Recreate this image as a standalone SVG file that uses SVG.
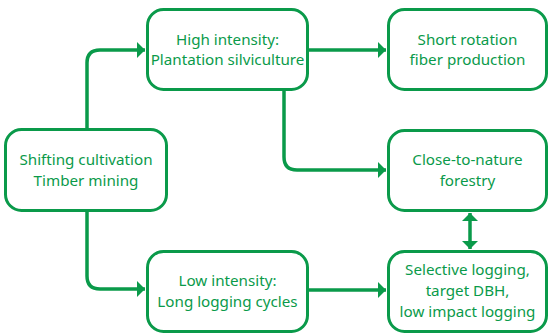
<svg xmlns="http://www.w3.org/2000/svg" width="549" height="333" viewBox="0 0 549 333">
<style>
.box{fill:#fff;stroke:#0a9a4a;stroke-width:3}
.t{font-family:"Noto Sans","Open Sans",sans-serif;font-size:15.2px;fill:#0a9a4a;text-anchor:middle}
.c{fill:none;stroke:#0a9a4a;stroke-width:3.5}
</style>
<defs>
<marker id="ah" markerUnits="userSpaceOnUse" markerWidth="10" markerHeight="16" refX="8" refY="8" orient="auto">
<path d="M0,0 L8,8 L0,16 Z" fill="#0a9a4a"/>
</marker>
<marker id="ahs" markerUnits="userSpaceOnUse" markerWidth="10" markerHeight="16" refX="8" refY="8" orient="auto-start-reverse">
<path d="M0,0 L8,8 L0,16 Z" fill="#0a9a4a"/>
</marker>
</defs>
<rect width="549" height="333" fill="#fff"/>
<g id="connectors">
<path class="c" d="M87,129 V63 Q87,50 100,50 H145" marker-end="url(#ah)"/>
<path class="c" d="M87,211 V276 Q87,289 100,289 H145" marker-end="url(#ah)"/>
<path class="c" d="M308,50 H386" marker-end="url(#ah)"/>
<path class="c" d="M284,90 V157 Q284,170 297,170 H386" marker-end="url(#ah)"/>
<path class="c" d="M308,290 H386" marker-end="url(#ah)"/>
<path class="c" d="M470,213 V249" marker-start="url(#ahs)" marker-end="url(#ah)"/>
</g>
<g id="n1">
<rect class="box" x="5.5" y="129.5" width="161" height="81" rx="16"/>
<text class="t" x="86" y="165">Shifting cultivation</text>
<text class="t" x="86" y="186">Timber mining</text>
</g>
<g id="n2">
<rect class="box" x="147.5" y="9.5" width="160" height="80" rx="16"/>
<text class="t" x="227.5" y="45">High intensity:</text>
<text class="t" x="227.5" y="65">Plantation silviculture</text>
</g>
<g id="n3">
<rect class="box" x="388.5" y="9.5" width="158" height="80" rx="16"/>
<text class="t" x="467.5" y="45">Short rotation</text>
<text class="t" x="467.5" y="65">fiber production</text>
</g>
<g id="n4">
<rect class="box" x="388.5" y="130.5" width="158" height="80" rx="16"/>
<text class="t" x="467.5" y="165">Close-to-nature</text>
<text class="t" x="467.5" y="186">forestry</text>
</g>
<g id="n5">
<rect class="box" x="147.5" y="251.5" width="160" height="80" rx="16"/>
<text class="t" x="227.5" y="286">Low intensity:</text>
<text class="t" x="227.5" y="307">Long logging cycles</text>
</g>
<g id="n6">
<rect class="box" x="388.5" y="251.5" width="158" height="80" rx="16"/>
<text class="t" x="467.5" y="275">Selective logging,</text>
<text class="t" x="467.5" y="296">target DBH,</text>
<text class="t" x="467.5" y="317">low impact logging</text>
</g>
</svg>
